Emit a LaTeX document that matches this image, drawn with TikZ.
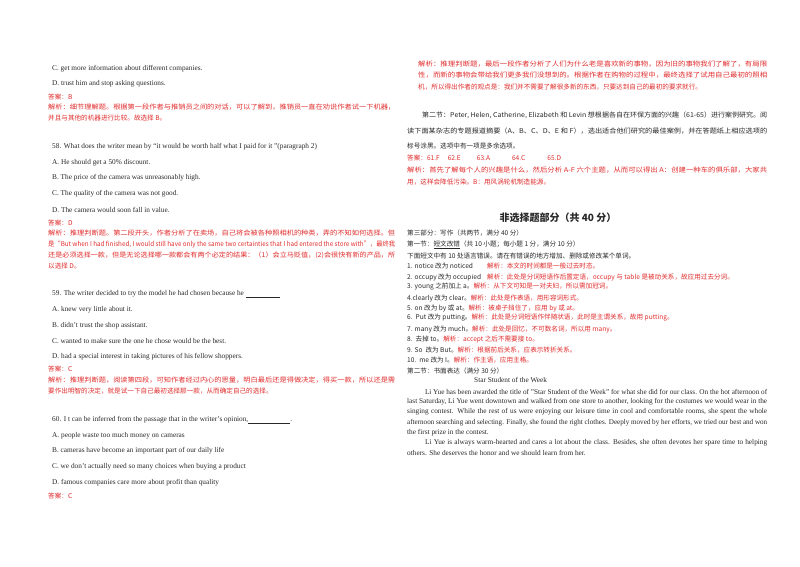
\documentclass[tikz,border=0pt]{standalone}
\usepackage{fontspec}
\usepackage{graphicx}
\setmainfont{Liberation Serif}
\newfontfamily\cjk{Noto Sans CJK SC}
\definecolor{ans}{RGB}{225,45,45}
\definecolor{ink}{RGB}{40,40,40}
\tikzset{ln/.style={anchor=west,inner sep=0pt,font=\fontsize{7.3}{8}\selectfont,text=ink},
 zh/.style={anchor=west,inner sep=0pt,font=\cjk\fontsize{6.6}{7.5}\selectfont,text=ink},
 rd/.style={zh,text=ans}}
\newcommand\jl[1]{\makebox[360pt][s]{#1}}
\newcommand\jw[2]{\resizebox{#1pt}{\height}{#2}}
\begin{document}
\begin{tikzpicture}[x=1pt,y=-1pt]
\useasboundingbox (0,0) rectangle (800,566);
\fill[white] (0,0) rectangle (800,566);
% left column
\node[ln] (l1) at (52,69) {C. get more information about different companies.};
\node[ln] (l2) at (52,84) {D. trust him and stop asking questions.};
\node[rd] (l3) at (48,97) {答案：B};
\node[rd] (l4) at (48,107) {\jw{347}{解析：细节理解题。根据第一段作者与推销员之间的对话，可以了解到，推销员一直在劝说作者试一下机器，}};
\node[rd] (l5) at (48,118) {并且与其他的机器进行比较。故选择 B。};
\node[ln] (l6) at (52,147) {58. What does the writer mean by “it would be worth half what I paid for it ”(paragraph 2)};
\node[ln] (l7) at (52,163) {A. He should get a 50\% discount.};
\node[ln] (l8) at (52,178) {B. The price of the camera was unreasonably high.};
\node[ln] (l9) at (52,194) {C. The quality of the camera was not good.};
\node[ln] (l10) at (52,210) {D. The camera would soon fall in value.};
\node[rd] (l11) at (48,223) {答案：D};
\node[rd] (l12) at (48,233) {\jw{347}{解析：推理判断题。第二段开头，作者分析了在卖场，自己将会被各种照相机的种类，弄的不知如何选择。但}};
\node[rd] (l13) at (48,244) {\jw{347}{是“But when I had finished, I would still have only the same two certainties that I had entered the store with”，最终我}};
\node[rd] (l14) at (48,255) {\jw{347}{还是必须选择一款，但是无论选择哪一款都会有两个必定的结果：（1）会立马贬值，(2)会很快有新的产品，所}};
\node[rd] (l15) at (48,266) {以选择 D。};
\node[ln] (l16) at (52,294) {59. The writer decided to try the model he had chosen because he \underline{\hspace{34pt}}};
\node[ln] (l17) at (52,310) {A. knew very little about it.};
\node[ln] (l18) at (52,326) {B. didn’t trust the shop assistant.};
\node[ln] (l19) at (52,341) {C. wanted to make sure the one he chose would be the best.};
\node[ln] (l20) at (52,357) {D. had a special interest in taking pictures of his fellow shoppers.};
\node[rd] (l21) at (48,369) {答案：C};
\node[rd] (l22) at (48,380) {\jw{347}{解析：推理判断题，阅读第四段，可知作者经过内心的思量，明白最后还是得做决定，得买一款，所以还是需}};
\node[rd] (l23) at (48,391) {要作出明智的决定，就是试一下自己最初选择那一款，从而确定自己的选择。};
\node[ln] (l24) at (52,420) {60. I t can be inferred from the passage that in the writer’s opinion,\underline{\hspace{42pt}}.};
\node[ln] (l25) at (52,436) {A. people waste too much money on cameras};
\node[ln] (l26) at (52,451) {B. cameras have become an important part of our daily life};
\node[ln] (l27) at (52,467) {C. we don’t actually need so many choices when buying a product};
\node[ln] (l28) at (52,483) {D. famous companies care more about profit than quality};
\node[rd] (l29) at (48,496) {答案：C};
% right column
\node[rd] (r1) at (418,64) {\jw{349}{解析：推理判断题，最后一段作者分析了人们为什么老是喜欢新的事物，因为旧的事物我们了解了，有局限}};
\node[rd] (r2) at (418,75) {\jw{349}{性，而新的事物会带给我们更多我们没想到的。根据作者在购物的过程中，最终选择了试用自己最初的照相}};
\node[rd] (r3) at (418,87) {机，所以得出作者的观点是：我们并不需要了解很多新的东西，只要达到自己的最初的要求就行。};
\node[zh] (r4) at (422,115) {\jw{345}{第二节：Peter, Helen, Catherine, Elizabeth 和 Levin 想根据各自在环保方面的兴趣（61-65）进行案例研究。阅}};
\node[zh] (r5) at (407,131) {\jw{360}{读下面某杂志的专题报道摘要（A、B、C、D、E 和 F），选出适合他们研究的最佳案例，并在答题纸上相应选项的}};
\node[zh] (r6) at (407,146) {标号涂黑。选项中有一项是多余选项。};
\node[rd] (r7) at (407,158) {答案：61.F\hspace{8pt}62.E\hspace{16pt}63.A\hspace{22pt}64.C\hspace{22pt}65.D};
\node[rd] (r8) at (407,170) {\jw{360}{解析：首先了解每个人的兴趣是什么，然后分析 A-F 六个主题，从而可以得出 A：创建一种车的俱乐部，大家共}};
\node[rd] (r9) at (407,182) {用，这样会降低污染。B：用风涡轮机制造能源。};
\node[zh,anchor=center,font=\cjk\bfseries\fontsize{10}{11}\selectfont] (h) at (558,218) {非选择题部分（共 40 分）};
\node[zh] (r10) at (407,233) {第三部分：写作（共两节，满分 40 分）};
\node[zh] (r11) at (407,245) {第一节：\underline{短文改错}（共 10 小题；每小题 1 分，满分 10 分）};
\node[zh] (r12) at (407,256) {下面短文中有 10 处语言错误。请在有错误的地方增加、删除或修改某个单词。};
\node[zh] (c1) at (407,266) {1. notice 改为 noticed\hspace{14pt}\textcolor{ans}{解析：本文的时间都是一般过去时态。}};
\node[zh] (c2) at (407,277) {2. occupy 改为 occupied\hspace{6pt}\textcolor{ans}{解析：此处是分词短语作后置定语，occupy 与 table 是被动关系，故应用过去分词。}};
\node[zh] (c3) at (407,287) {3. young 之前加上 a。\textcolor{ans}{解析：从下文可知是一对夫妇，所以需加冠词。}};
\node[zh] (c4) at (407,298) {4.clearly 改为 clear。\textcolor{ans}{解析：此处是作表语，用形容词形式。}};
\node[zh] (c5) at (407,308) {5. on 改为 by 或 at。\textcolor{ans}{解析：被桌子挡住了，应用 by 或 at。}};
\node[zh] (c6) at (407,318) {6.\ \ Put 改为 putting。\textcolor{ans}{解析：此处是分词短语作伴随状语，此时是主谓关系，故用 putting。}};
\node[zh] (c7) at (407,329) {7. many 改为 much。\textcolor{ans}{解析：此处是回忆，不可数名词，所以用 many。}};
\node[zh] (c8) at (407,339) {8.\ \ 去掉 to。\textcolor{ans}{解析：accept 之后不需要接 to。}};
\node[zh] (c9) at (407,350) {9. So\ \ 改为 But。\textcolor{ans}{解析：根据前后关系，应表示转折关系。}};
\node[zh] (c10) at (407,360) {10.\ \ me 改为 I。\textcolor{ans}{解析：作主语，应用主格。}};
\node[zh] (r13) at (407,371) {第二节：书面表达（满分 30 分）};
\node[ln] (t) at (474,380) {Star Student of the Week};
\node[ln] (p1) at (407,392) {\jw{360}{\hspace{18pt}Li Yue has been awarded the title of "Star Student of the Week" for what she did for our class. On the hot afternoon of}};
\node[ln] (p2) at (407,402) {\jl{last Saturday, Li Yue went downtown and walked from one store to another, looking for the costumes we would wear in the}};
\node[ln] (p3) at (407,412) {\jl{singing contest. While the rest of us were enjoying our leisure time in cool and comfortable rooms, she spent the whole}};
\node[ln] (p4) at (407,423) {\jw{360}{afternoon searching and selecting. Finally, she found the right clothes. Deeply moved by her efforts, we tried our best and won}};
\node[ln] (p5) at (407,433) {the first prize in the contest.};
\node[ln] (p6) at (407,443) {\jl{\hspace{18pt}Li Yue is always warm-hearted and cares a lot about the class. Besides, she often devotes her spare time to helping}};
\node[ln] (p7) at (407,453) {others. She deserves the honor and we should learn from her.};
\end{tikzpicture}
\end{document}
